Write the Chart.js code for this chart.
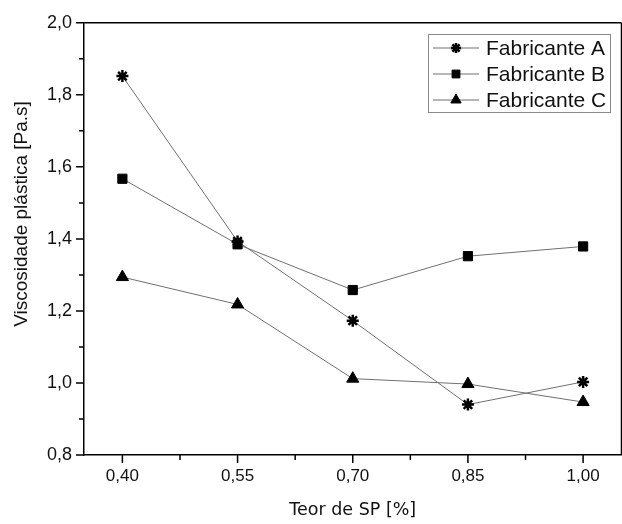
<!DOCTYPE html>
<html>
<head>
<meta charset="utf-8">
<script src="https://cdn.jsdelivr.net/npm/chart.js@4"></script>
<style>
  html, body { margin: 0; padding: 0; background: #fff; overflow: hidden; }
  #wrap { width: 630px; height: 524px; }
</style>
</head>
<body>
<div id="wrap"><canvas id="chart" width="630" height="524"></canvas></div>
<script>
// SP content [%] and plastic viscosity [Pa.s] per manufacturer
const teorSP = [0.40, 0.55, 0.70, 0.85, 1.00];
const fabricanteA = [1.852, 1.393, 1.173, 0.940, 1.003];
const fabricanteB = [1.567, 1.385, 1.258, 1.352, 1.379];
const fabricanteC = [1.294, 1.218, 1.012, 0.997, 0.947];
const seriesNames = ['Fabricante A', 'Fabricante B', 'Fabricante C'];
const xMajorTicks = [0.40, 0.55, 0.70, 0.85, 1.00];
const yMajorTicks = [0.8, 1.0, 1.2, 1.4, 1.6, 1.8, 2.0];
const yTitle = 'Viscosidade plástica [Pa.s]';

const LINE = '#707070';
const ARIAL = '"Liberation Sans", Arial, sans-serif';
const fmt = (v, d) => v.toFixed(d).replace('.', ',');

function ds(label, values, style, radius) {
    return {
        label,
        data: teorSP.map((x, i) => ({ x, y: values[i] })),
        borderColor: LINE,
        borderWidth: 1,
        pointStyle: style,
        pointRadius: radius,
        pointHoverRadius: radius,
        pointBackgroundColor: '#000',
        pointBorderColor: '#000',
        pointBorderWidth: style === 'star' ? 2.5 : 1
    };
}

// Origin-style outside tick marks, top frame line, y title and boxed legend
const frame = {
    id: 'frame',
    afterDraw(chart) {
        const { ctx, chartArea: a, scales: { x, y } } = chart;
        ctx.save();
        ctx.strokeStyle = '#000';
        ctx.lineWidth = 1.5;
        ctx.beginPath();
        ctx.moveTo(a.left, a.top); ctx.lineTo(a.right, a.top);
        ctx.moveTo(a.right, a.top); ctx.lineTo(a.right, a.bottom);
        xMajorTicks.forEach(v => {
            const px = x.getPixelForValue(v);
            ctx.moveTo(px, a.bottom); ctx.lineTo(px, a.bottom + 8);
            const m = x.getPixelForValue(v + 0.075);
            if (m < a.right) { ctx.moveTo(m, a.bottom); ctx.lineTo(m, a.bottom + 5); }
        });
        for (let v = 0.8; v <= 2.001; v += 0.1) {
            const py = y.getPixelForValue(v);
            const major = Math.round(v * 10) % 2 === 0;
            ctx.moveTo(a.left, py); ctx.lineTo(a.left - (major ? 8 : 5), py);
        }
        ctx.stroke();

        // y axis title (sits above the axis centre in the original)
        ctx.save();
        ctx.translate(22, 214);
        ctx.rotate(-Math.PI / 2);
        ctx.font = '19px ' + ARIAL;
        ctx.fillStyle = '#111';
        ctx.textAlign = 'center';
        ctx.textBaseline = 'middle';
        ctx.fillText(yTitle, 0, 0);
        ctx.restore();

        // legend
        const bx = 428, by = 34, bw = 182, bh = 78;
        ctx.strokeStyle = '#8a8a8a';
        ctx.lineWidth = 1;
        ctx.strokeRect(bx + 0.5, by + 0.5, bw, bh);
        ctx.font = '21px ' + ARIAL;
        ctx.textBaseline = 'middle';
        chart.data.datasets.forEach((d, i) => {
            const cy = by + 14 + i * 26;
            ctx.strokeStyle = LINE;
            ctx.lineWidth = 1;
            ctx.beginPath();
            ctx.moveTo(433, cy); ctx.lineTo(479, cy);
            ctx.stroke();
            ctx.fillStyle = '#000';
            ctx.strokeStyle = '#000';
            ctx.lineWidth = d.pointBorderWidth;
            Chart.helpers.drawPoint(ctx, {
                pointStyle: d.pointStyle, rotation: 0,
                radius: d.pointRadius * 0.85, borderWidth: d.pointBorderWidth
            }, 456, cy);
            ctx.fillStyle = '#111';
            ctx.fillText(d.label, 486, cy + 1);
        });
        ctx.restore();
    }
};

new Chart(document.getElementById('chart'), {
    type: 'line',
    data: {
        datasets: [
            ds(seriesNames[0], fabricanteA, 'star', 6),
            ds(seriesNames[1], fabricanteB, 'rect', 6.5),
            ds(seriesNames[2], fabricanteC, 'triangle', 7)
        ]
    },
    options: {
        responsive: false,
        animation: false,
        layout: { padding: { top: 18, right: 2, left: 0, bottom: 0 } },
        plugins: { legend: { display: false }, tooltip: { enabled: false } },
        scales: {
            x: {
                type: 'linear',
                min: 0.35,
                max: 1.05,
                afterBuildTicks: s => { s.ticks = xMajorTicks.map(v => ({ value: v })); },
                afterFit: s => { s.height = 69; },
                grid: { display: false, drawTicks: false },
                border: { display: true, color: '#000', width: 1.5 },
                ticks: {
                    color: '#111',
                    padding: 11,
                    maxRotation: 0,
                    font: { family: ARIAL, size: 17 },
                    callback: v => fmt(v, 2)
                },
                title: {
                    display: true,
                    text: 'Teor de SP [%]',
                    color: '#111',
                    font: { family: '"DejaVu Sans", sans-serif', size: 17.5 },
                    padding: { top: 0, bottom: 3 }
                }
            },
            y: {
                min: 0.8,
                max: 2.0,
                afterBuildTicks: s => { s.ticks = yMajorTicks.map(v => ({ value: v })); },
                afterFit: s => { s.width = 84; },
                grid: { display: false, drawTicks: false },
                border: { display: true, color: '#000', width: 1.5 },
                ticks: {
                    color: '#111',
                    padding: 12,
                    font: { family: ARIAL, size: 18 },
                    callback: v => fmt(v, 1)
                }
            }
        }
    },
    plugins: [frame]
});
</script>
</body>
</html>
